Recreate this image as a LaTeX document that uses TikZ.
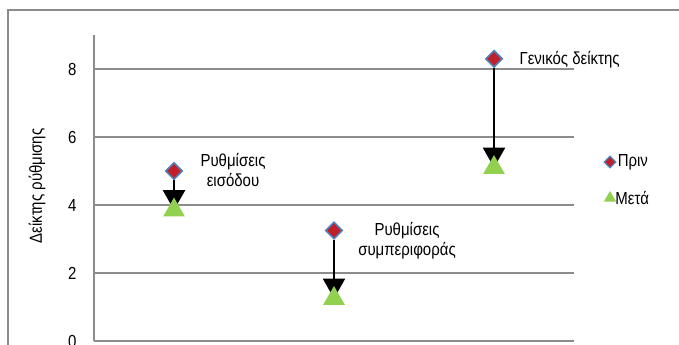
\documentclass[tikz,border=0pt]{standalone}
\usepackage{fontspec}
\setmainfont{Liberation Sans}[FakeStretch=0.86]
\usetikzlibrary{arrows.meta, shapes.geometric}

\definecolor{gridgray}{HTML}{8C8C8C}
\definecolor{prered}{HTML}{C0202A}
\definecolor{preblue}{HTML}{4F81BD}
\definecolor{postgreen}{HTML}{92D050}

\tikzset{
  gridline/.style={gridgray, line width=1.3bp},
  premark/.style={diamond, fill=prered, draw=preblue, line width=1.6bp, inner sep=0pt, minimum size=17bp},
  postmark/.style={regular polygon, regular polygon sides=3, fill=postgreen, inner sep=0pt, minimum size=25bp},
  drop/.style={line width=2.5bp, -{Triangle[width=22bp, length=20bp]}},
  txt/.style={font=\fontsize{17.5}{20}\selectfont, align=center},
}

\begin{document}
\begin{tikzpicture}[x=1bp, y=1bp]
        \useasboundingbox (0,0) rectangle (679,344);

        % Frame
        \draw[gridline] (8,334) rectangle (700,-20);

        % Grid and axes
        \foreach \v in {2,4,6,8} {
            \draw[gridline] (94,{3+34*\v}) -- (574,{3+34*\v});
        }
        \draw[gridline] (94,3) -- (574,3); % x-axis
        \draw[gridline] (94,3) -- (94,309); % y-axis

        % Tick labels
        \foreach \v in {0,2,4,6,8} {
            \node[txt, anchor=east] (tick\v) at (80,{3+34*\v}) {\v};
        }
        \node[txt, rotate=90] (ylabel) at (37,158) {Δείκτης ρύθμισης};

        % Before / after values
        \foreach \cx/\pre/\post/\nm in {174/5/3.85/a, 334/3.25/1.25/b, 494/8.3/5.1/c} {
            \node[premark] (pre\nm) at (\cx,{3+34*\pre}) {};
            \node[inner sep=0pt] (post\nm) at (\cx,{3+34*\post}) {};
            \draw[drop] (pre\nm) -- (post\nm.center);
            \node[postmark] at (post\nm) {};
        }

        % Labels
        \node[txt] (labela) at (233,174) {Ρυθμίσεις\\εισόδου};
        \node[txt] (labelb) at (407,103) {Ρυθμίσεις\\συμπεριφοράς};
        \node[txt, anchor=west] (labelc) at (516,284) {Γενικός δείκτης};

        % Legend
        \node[premark, minimum size=12bp, line width=1.2bp] (legpre) at (610,182) {};
        \node[txt, anchor=west, inner sep=1bp] (legpretext) at (legpre.east) {Πριν};
        \node[postmark, minimum size=14bp] (legpost) at (610,146) {};
        \node[txt, anchor=west, inner sep=1bp] (legposttext) at (legpost.east) {Μετά};
\end{tikzpicture}
\end{document}
